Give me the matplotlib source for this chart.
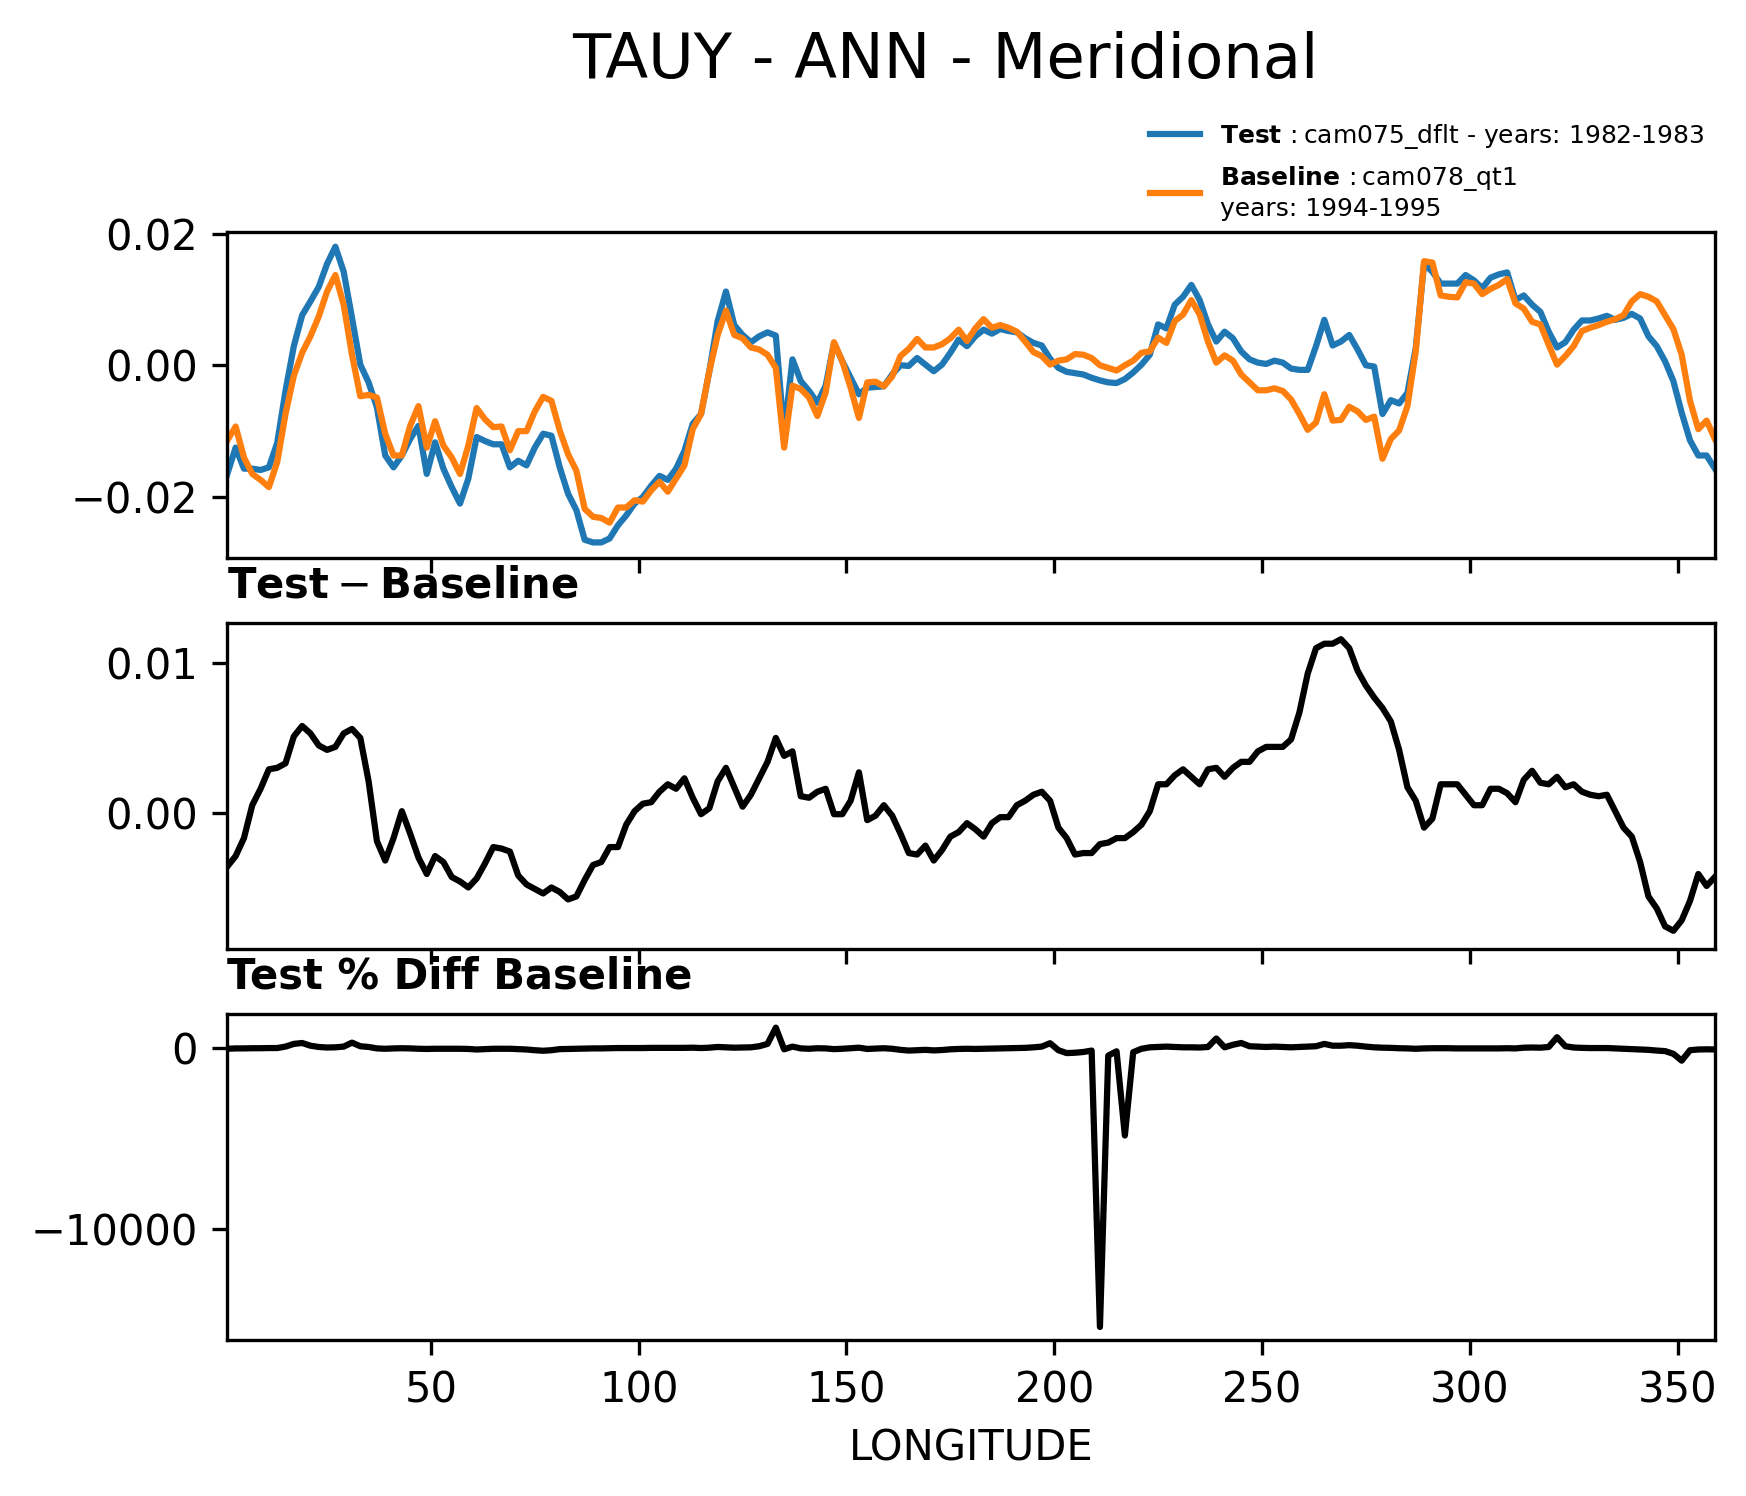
import numpy as np
import matplotlib
matplotlib.use("Agg")
import matplotlib.pyplot as plt
from matplotlib.lines import Line2D

# longitude grid, 2 deg
lon = np.arange(1, 360, 2)

# TAUY meridional mean, test case (blue)
test = [
    -0.0165, -0.0125, -0.0157, -0.0157, -0.0159, -0.0155, -0.0118, -0.0039, 0.0029, 0.0076,
    0.0097, 0.0119, 0.0154, 0.0180, 0.0142, 0.0072, 0.0001, -0.0026, -0.0064, -0.0137,
    -0.0155, -0.0137, -0.0112, -0.0092, -0.0165, -0.0117, -0.0157, -0.0185, -0.0210, -0.0172,
    -0.0109, -0.0115, -0.0120, -0.0120, -0.0155, -0.0145, -0.0152, -0.0125, -0.0104, -0.0107,
    -0.0155, -0.0195, -0.0220, -0.0265, -0.0269, -0.0269, -0.0263, -0.0243, -0.0228, -0.0210,
    -0.0200, -0.0183, -0.0168, -0.0174, -0.0157, -0.0130, -0.0089, -0.0074, -0.0009, 0.0067,
    0.0112, 0.0061, 0.0046, 0.0035, 0.0044, 0.0050, 0.0045, -0.0105, 0.0009, -0.0024,
    -0.0039, -0.0057, -0.0031, 0.0034, 0.0006, -0.0019, -0.0044, -0.0034, -0.0033, -0.0032,
    -0.0014, 0.0000, -0.0001, 0.0011, 0.0001, -0.0009, 0.0001, 0.0019, 0.0039, 0.0029,
    0.0044, 0.0054, 0.0048, 0.0055, 0.0052, 0.0050, 0.0041, 0.0034, 0.0030, 0.0010,
    -0.0004, -0.0010, -0.0012, -0.0014, -0.0019, -0.0023, -0.0026, -0.0027, -0.0021, -0.0011,
    0.0001, 0.0016, 0.0062, 0.0056, 0.0092, 0.0104, 0.0122, 0.0099, 0.0062, 0.0036,
    0.0051, 0.0041, 0.0021, 0.0009, 0.0004, 0.0002, 0.0007, 0.0004, -0.0005, -0.0007,
    -0.0007, 0.0029, 0.0069, 0.0030, 0.0036, 0.0046, 0.0024, 0.0000, -0.0002, -0.0074,
    -0.0053, -0.0058, -0.0042, 0.0026, 0.0154, 0.0142, 0.0124, 0.0124, 0.0124, 0.0137,
    0.0129, 0.0117, 0.0133, 0.0138, 0.0141, 0.0099, 0.0106, 0.0092, 0.0081, 0.0051,
    0.0027, 0.0035, 0.0054, 0.0068, 0.0068, 0.0071, 0.0075, 0.0069, 0.0072, 0.0078,
    0.0071, 0.0044, 0.0029, 0.0006, -0.0024, -0.0072, -0.0114, -0.0137, -0.0137, -0.0157,
]

# baseline case (orange)
baseline = [
    -0.0114, -0.0093, -0.0140, -0.0165, -0.0174, -0.0185, -0.0147, -0.0074, -0.0016, 0.0019,
    0.0044, 0.0074, 0.0112, 0.0137, 0.0092, 0.0016, -0.0047, -0.0045, -0.0049, -0.0104,
    -0.0137, -0.0137, -0.0092, -0.0062, -0.0125, -0.0085, -0.0122, -0.0140, -0.0165, -0.0122,
    -0.0065, -0.0082, -0.0094, -0.0093, -0.0129, -0.0100, -0.0100, -0.0070, -0.0048, -0.0054,
    -0.0099, -0.0135, -0.0160, -0.0218, -0.0230, -0.0232, -0.0239, -0.0216, -0.0216, -0.0205,
    -0.0207, -0.0190, -0.0177, -0.0192, -0.0172, -0.0152, -0.0097, -0.0074, -0.0009, 0.0046,
    0.0083, 0.0046, 0.0041, 0.0027, 0.0024, 0.0016, -0.0004, -0.0125, -0.0031, -0.0036,
    -0.0049, -0.0077, -0.0041, 0.0035, 0.0006, -0.0034, -0.0080, -0.0026, -0.0025, -0.0032,
    -0.0017, 0.0014, 0.0025, 0.0040, 0.0027, 0.0027, 0.0032, 0.0041, 0.0054, 0.0037,
    0.0056, 0.0070, 0.0057, 0.0061, 0.0057, 0.0051, 0.0036, 0.0020, 0.0014, 0.0001,
    0.0007, 0.0009, 0.0017, 0.0016, 0.0011, 0.0000, -0.0004, -0.0008, 0.0000, 0.0007,
    0.0019, 0.0021, 0.0042, 0.0034, 0.0067, 0.0077, 0.0099, 0.0077, 0.0036, 0.0004,
    0.0015, 0.0007, -0.0014, -0.0026, -0.0038, -0.0038, -0.0035, -0.0039, -0.0052, -0.0074,
    -0.0098, -0.0087, -0.0044, -0.0084, -0.0083, -0.0063, -0.0070, -0.0083, -0.0078, -0.0142,
    -0.0112, -0.0099, -0.0062, 0.0021, 0.0158, 0.0156, 0.0106, 0.0104, 0.0103, 0.0126,
    0.0124, 0.0108, 0.0116, 0.0122, 0.0131, 0.0094, 0.0086, 0.0066, 0.0062, 0.0031,
    0.0001, 0.0014, 0.0029, 0.0052, 0.0057, 0.0061, 0.0066, 0.0070, 0.0076, 0.0097,
    0.0108, 0.0104, 0.0097, 0.0076, 0.0055, 0.0016, -0.0054, -0.0097, -0.0084, -0.0112,
]

# test - baseline
diff = [
    -0.0036, -0.0029, -0.0017, 0.0005, 0.0016, 0.0029, 0.0030, 0.0033, 0.0051, 0.0058,
    0.0053, 0.0045, 0.0042, 0.0044, 0.0053, 0.0056, 0.0050, 0.0021, -0.0019, -0.0032,
    -0.0017, 0.0001, -0.0014, -0.0030, -0.0041, -0.0029, -0.0033, -0.0043, -0.0046, -0.0050,
    -0.0044, -0.0034, -0.0023, -0.0024, -0.0026, -0.0042, -0.0048, -0.0051, -0.0054, -0.0050,
    -0.0053, -0.0058, -0.0056, -0.0045, -0.0035, -0.0033, -0.0023, -0.0023, -0.0008, 0.0001,
    0.0006, 0.0007, 0.0014, 0.0019, 0.0016, 0.0023, 0.0010, -0.0001, 0.0003, 0.0021,
    0.0030, 0.0017, 0.0004, 0.0012, 0.0023, 0.0034, 0.0050, 0.0038, 0.0041, 0.0011,
    0.0010, 0.0014, 0.0016, -0.0001, -0.0001, 0.0008, 0.0027, -0.0005, -0.0002, 0.0005,
    -0.0002, -0.0014, -0.0027, -0.0028, -0.0022, -0.0032, -0.0025, -0.0016, -0.0013, -0.0007,
    -0.0011, -0.0016, -0.0007, -0.0003, -0.0003, 0.0005, 0.0008, 0.0012, 0.0014, 0.0008,
    -0.0010, -0.0017, -0.0028, -0.0027, -0.0027, -0.0021, -0.0020, -0.0017, -0.0017, -0.0013,
    -0.0008, 0.0001, 0.0019, 0.0019, 0.0025, 0.0029, 0.0024, 0.0019, 0.0029, 0.0030,
    0.0024, 0.0030, 0.0034, 0.0034, 0.0041, 0.0044, 0.0044, 0.0044, 0.0049, 0.0067,
    0.0093, 0.0110, 0.0113, 0.0113, 0.0116, 0.0110, 0.0095, 0.0085, 0.0077, 0.0070,
    0.0061, 0.0042, 0.0017, 0.0008, -0.0010, -0.0004, 0.0019, 0.0019, 0.0019, 0.0012,
    0.0005, 0.0005, 0.0016, 0.0016, 0.0013, 0.0007, 0.0022, 0.0028, 0.0020, 0.0019,
    0.0024, 0.0017, 0.0019, 0.0014, 0.0012, 0.0011, 0.0012, 0.0001, -0.0010, -0.0016,
    -0.0033, -0.0056, -0.0064, -0.0076, -0.0079, -0.0072, -0.0059, -0.0041, -0.0049, -0.0043,
]

# test % diff baseline
pct_diff = [
    -20, 0, 0, 10, 10, 20, 20, 100, 250, 300,
    150, 80, 50, 60, 100, 320, 120, 80, 0, -20,
    0, 10, 0, -20, -30, -20, -20, -20, -20, -30,
    -60, -40, -20, -20, -20, -40, -60, -100, -130, -100,
    -40, -30, -20, -10, 0, 0, 10, 20, 20, 20,
    20, 30, 30, 30, 30, 30, 40, 20, 40, 80,
    60, 40, 50, 60, 120, 250, 1150, -50, 100, 0,
    -20, 10, 0, -40, -20, 10, 40, -30, -10, 10,
    -20, -80, -120, -100, -80, -110, -90, -50, -30, -20,
    -30, -20, -10, 0, 10, 20, 30, 60, 100, 290,
    -100, -260, -240, -200, -120, -15450, -400, -160, -4830, -210,
    -20, 60, 80, 100, 80, 60, 60, 50, 80, 550,
    60, 200, 300, 120, 100, 80, 100, 80, 60, 80,
    100, 120, 250, 150, 150, 180, 150, 100, 60, 40,
    30, 10, 0, -20, 0, 10, 10, 10, 0, 0,
    0, 0, 0, 0, 10, 0, 40, 50, 40, 80,
    620, 120, 50, 30, 20, 20, 20, 0, -20, -40,
    -60, -80, -120, -150, -300, -680, -100, -60, -50, -60,
]

case_name = "cam075_dflt"
case_yrs = "1982-1983"
base_name = "cam078_qt1"
base_yrs = "1994-1995"

fig, ax = plt.subplots(nrows=3, sharex=True, figsize=(5.82, 4.9867), dpi=300)
fig.subplots_adjust(left=0.1302, right=0.9822, top=0.8452, bottom=0.1043, hspace=0.2)

fig.suptitle("TAUY - ANN - Meridional", fontsize=15, x=0.5415, y=0.9479, va="baseline")

ax[0].plot(lon, test, color="#1f77b4")
ax[0].plot(lon, baseline, color="#ff7f0e")
ax[0].set_ylim(-0.0292, 0.0203)

ax[1].plot(lon, diff, c="k")
ax[1].set_ylim(-0.0091, 0.0127)
ax[1].set_title(r"$\mathbf{Test} - \mathbf{Baseline}$", loc="left", fontsize=10)

ax[2].plot(lon, pct_diff, c="k")
ax[2].set_ylim(-16170, 1910)
ax[2].set_title("Test % Diff Baseline", loc="left", fontsize=10, fontweight="bold")
ax[2].set_xlabel("LONGITUDE")
ax[2].set_xlim(lon[0], lon[-1])

line = Line2D([0], [0], color="#1f77b4",
              label=r"$\mathbf{Test}\,:$" + case_name + " - years: " + case_yrs)
line2 = Line2D([0], [0], color="#ff7f0e",
               label=r"$\mathbf{Baseline}\,:$" + base_name + "\nyears: " + base_yrs)
fig.legend(handles=[line, line2], loc="upper right", bbox_to_anchor=(0.982, 0.925),
           fontsize=6, frameon=False, borderaxespad=0.0)

fig.savefig("out.png", dpi=300)
